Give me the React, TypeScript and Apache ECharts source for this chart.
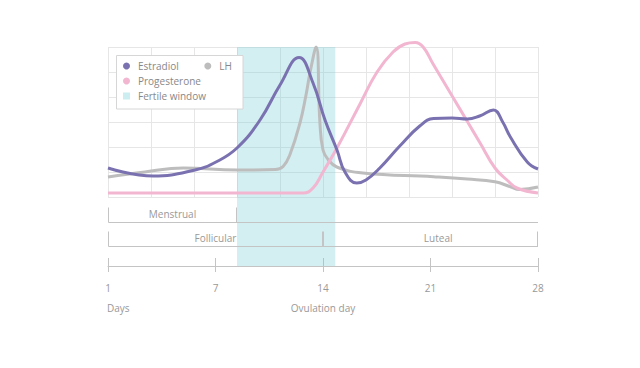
import React, { useEffect, useRef } from 'react';
import * as echarts from 'echarts';

// ---- data (x in cycle-position units 0..28, y in relative hormone level 0..6) ----
const estradiolDays = [0, 2.93, 5.67, 7.03, 8.4, 9.9, 11.2, 12.44, 13.35, 14.13, 14.91, 15.43, 16.2, 16.8, 17.7, 19.0, 20.3, 21.2, 22.4, 23.4, 24.2, 25.1, 25.7, 26.2, 27.3, 28];
const estradiolLevel = [1.16, 0.84, 1.08, 1.4, 1.96, 3.08, 4.48, 5.58, 4.56, 3.08, 1.88, 1.0, 0.56, 0.68, 1.16, 2.04, 2.84, 3.14, 3.16, 3.12, 3.24, 3.48, 3.0, 2.4, 1.4, 1.12];

const lhDays = [0, 2.4, 4.9, 8.4, 10.9, 11.4, 11.85, 12.5, 12.9, 13.15, 13.55, 13.8, 14.0, 14.33, 14.9, 16.6, 21.2, 23.4, 25.2, 26.2, 26.8, 28];
const lhLevel = [0.8, 1.0, 1.16, 1.08, 1.1, 1.22, 1.7, 2.96, 4.1, 4.96, 6.0, 2.96, 1.88, 1.5, 1.2, 0.96, 0.81, 0.72, 0.61, 0.41, 0.3, 0.4];

const progDays = [0, 6, 12.7, 13.35, 14.0, 14.91, 16.41, 17.52, 18.56, 19.34, 20.0, 20.52, 21.16, 22.4, 23.38, 24.22, 25.2, 25.98, 26.63, 28];
const progLevel = [0.16, 0.16, 0.16, 0.36, 1.0, 1.96, 3.72, 5.0, 5.8, 6.12, 6.18, 6.0, 5.33, 4.05, 3.04, 2.17, 1.16, 0.68, 0.36, 0.16];

const fertileWindow = [8.4, 14.8];

const dayTicks = [0, 7, 14, 21, 28];
const dayTickLabels = ['1', '7', '14', '21', '28'];

const phaseNames = ['Menstrual', 'Follicular', 'Luteal'];
const phaseStart = [0, 0, 14];
const phaseEnd = [8.4, 14, 28];
const phaseRow = [0, 1, 1];
const phaseLabelDay = [4.2, 7, 21.5];

const FONT = '"Open Sans", "Noto Sans", sans-serif';
const C_E = '#7a72b0';
const C_LH = '#bdbdbd';
const C_P = '#f2b6d1';
const C_BAND = 'rgba(120, 205, 215, 0.33)';
const C_BAND_ICON = '#cdeef1';
const C_GRID = '#e6e6e6';
const C_AX = '#c4c4c4';
const C_TXT = '#999999';

const zip = (xs: number[], ys: number[]) => xs.map((x, i) => [x, ys[i]]);

export default function App() {
  const ref = useRef<HTMLDivElement>(null);
  useEffect(() => {
    if (!ref.current) return;
    const chart = echarts.init(ref.current, null, { renderer: 'svg' });

    const rowBase = [44, 20];
    const tickH = 15;
    const labelLift = 8;

    const lineSeries = (name: string, data: number[][], color: string, z: number) => ({
      name,
      type: 'line',
      xAxisIndex: 1,
      yAxisIndex: 0,
      data,
      smooth: 0.45,
      showSymbol: false,
      symbol: 'none',
      clip: false,
      z,
      itemStyle: { color },
      lineStyle: { color, width: 3 },
    });

    const option: any = {
      animation: false,
      grid: [
        { left: 108, top: 47, width: 430, height: 150 },
        { left: 108, top: 197, width: 430, height: 69 },
      ],
      xAxis: [
        {
          gridIndex: 0, type: 'value', min: 0, max: 10, interval: 1,
          axisLine: { show: false }, axisTick: { show: false }, axisLabel: { show: false },
          splitLine: { show: true, lineStyle: { color: C_GRID, width: 1 } },
        },
        { gridIndex: 0, type: 'value', min: 0, max: 28, show: false },
        {
          gridIndex: 1, type: 'value', min: 0, max: 28, interval: 7, position: 'bottom',
          axisLine: { show: true, onZero: false, lineStyle: { color: C_AX, width: 1 } },
          axisTick: { show: true, inside: true, length: 8, lineStyle: { color: C_AX, width: 1 } },
          axisLabel: { show: false }, splitLine: { show: false },
        },
        {
          gridIndex: 1, type: 'value', min: 0, max: 28, interval: 7, position: 'bottom',
          axisLine: { show: false, onZero: false },
          axisTick: { show: true, inside: false, length: 6, lineStyle: { color: C_AX, width: 1 } },
          axisLabel: {
            show: true, margin: 17, color: C_TXT, fontSize: 10, fontFamily: FONT,
            formatter: (v: number) => {
              const i = dayTicks.indexOf(v);
              return i >= 0 ? dayTickLabels[i] : '';
            },
          },
          splitLine: { show: false },
        },
      ],
      yAxis: [
        {
          gridIndex: 0, type: 'value', min: 0, max: 6, interval: 1,
          axisLine: { show: false }, axisTick: { show: false }, axisLabel: { show: false },
          splitLine: { show: true, lineStyle: { color: C_GRID, width: 1 } },
        },
        { gridIndex: 1, type: 'value', min: 0, max: 69, show: false },
      ],
      legend: [
        {
          orient: 'vertical', left: 123, top: 60, padding: 0,
          itemWidth: 13, itemHeight: 7, itemGap: 3, icon: 'circle', z: 10,
          data: ['Estradiol', 'Progesterone', { name: 'Fertile window', icon: 'path://M0 0H10V10H0Z' }],
          textStyle: { color: '#888888', fontSize: 10, fontFamily: FONT, lineHeight: 12 },
        },
        {
          orient: 'horizontal', left: 204.3, top: 60, padding: 0,
          itemWidth: 13, itemHeight: 7, itemGap: 3, icon: 'circle', z: 10,
          data: ['LH'],
          textStyle: { color: '#888888', fontSize: 10, fontFamily: FONT, lineHeight: 12 },
        },
      ],
      graphic: [
        {
          type: 'rect', z: 5,
          shape: { x: 116.5, y: 55.5, width: 126.5, height: 53.5 },
          style: { fill: '#ffffff', stroke: '#d6d6d6', lineWidth: 1 },
        },
        {
          type: 'text', x: 107, y: 308,
          style: { text: 'Days', fill: C_TXT, fontSize: 10, fontFamily: FONT, align: 'left', verticalAlign: 'middle' },
        },
        {
          type: 'text', x: 323, y: 308,
          style: { text: 'Ovulation day', fill: C_TXT, fontSize: 10, fontFamily: FONT, align: 'center', verticalAlign: 'middle' },
        },
      ],
      series: [
        {
          name: 'Fertile window', type: 'line', xAxisIndex: 1, yAxisIndex: 0, data: [], z: 1,
          itemStyle: { color: C_BAND_ICON }, lineStyle: { color: C_BAND_ICON },
          markArea: { silent: true, itemStyle: { color: C_BAND }, data: [[{ xAxis: fertileWindow[0] }, { xAxis: fertileWindow[1] }]] },
        },
        {
          name: 'Fertile window', type: 'line', xAxisIndex: 2, yAxisIndex: 1, data: [], z: 1,
          itemStyle: { color: C_BAND_ICON }, lineStyle: { color: C_BAND_ICON },
          markArea: { silent: true, itemStyle: { color: C_BAND }, data: [[{ xAxis: fertileWindow[0] }, { xAxis: fertileWindow[1] }]] },
        },
        lineSeries('LH', zip(lhDays, lhLevel), C_LH, 3),
        lineSeries('Progesterone', zip(progDays, progLevel), C_P, 4),
        lineSeries('Estradiol', zip(estradiolDays, estradiolLevel), C_E, 5),
        {
          name: 'Phases', type: 'custom', xAxisIndex: 2, yAxisIndex: 1, z: 3, silent: true,
          data: phaseNames.map((_, i) => [phaseStart[i], phaseEnd[i], phaseRow[i], phaseLabelDay[i]]),
          renderItem: (params: any, api: any) => {
            const i = params.dataIndex;
            const s = api.value(0), e = api.value(1), row = api.value(2), mid = api.value(3);
            const base = rowBase[row];
            const firstInRow = phaseRow.indexOf(row) === i;
            const p0 = api.coord([s, base]);
            const p1 = api.coord([e, base]);
            const pEnd = api.coord([28, base]);
            const pTop = api.coord([s, base + tickH]);
            const pm = api.coord([mid, base + labelLift]);
            const y = Math.round(p0[1]) + 0.5;
            const yt = Math.round(pTop[1]) + 0.5;
            const xa = Math.round(p0[0]) + 0.5;
            const xb = Math.round(p1[0]) - 0.5;
            const stroke = { stroke: C_AX, lineWidth: 1 };
            const children: any[] = [
              { type: 'line', shape: { x1: xa, y1: y, x2: firstInRow ? Math.round(pEnd[0]) : xb, y2: y }, style: stroke },
              { type: 'line', shape: { x1: xa, y1: y, x2: xa, y2: yt }, style: stroke },
              { type: 'line', shape: { x1: xb, y1: y, x2: xb, y2: yt }, style: stroke },
              {
                type: 'text', x: pm[0], y: pm[1],
                style: { text: phaseNames[i], fill: C_TXT, fontSize: 10, fontFamily: FONT, align: 'center', verticalAlign: 'middle' },
              },
            ];
            return { type: 'group', children };
          },
        },
      ],
    };

    chart.setOption(option);
    return () => chart.dispose();
  }, []);

  return <div ref={ref} style={{ position: 'absolute', left: 0, top: 0, width: 640, height: 368 }} />;
}
